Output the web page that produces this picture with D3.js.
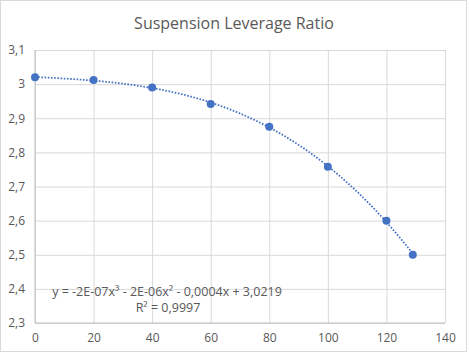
<!DOCTYPE html>
<html><head><meta charset="utf-8">
<script src="https://cdn.jsdelivr.net/npm/d3@7"></script>
<style>body{margin:0;background:#fff}svg{display:block}text{font-family:"Open Sans","Liberation Sans",sans-serif}</style>
</head><body><svg id="c" width="469" height="354"></svg>
<script>
const title = "Suspension Leverage Ratio";
const xValues = [0, 20, 40, 60, 80, 100, 120, 129];
const yValues = [3.02, 3.012, 2.99, 2.942, 2.875, 2.758, 2.6, 2.5];
const xTicks = [0, 20, 40, 60, 80, 100, 120, 140];
const yTicks = [2.3, 2.4, 2.5, 2.6, 2.7, 2.8, 2.9, 3.0, 3.1];
const equationLines = ["y = -2E-07x³ - 2E-06x² - 0,0004x + 3,0219", "R² = 0,9997"];

const svg = d3.select("#c");
const W = 469, H = 354;
const m = {l: 35, r: 24, t: 50, b: 31};
const x = d3.scaleLinear().domain([0, 140]).range([m.l, W - m.r]);
const y = d3.scaleLinear().domain([2.3, 3.1]).range([H - m.b, m.t]);
const txt = "#595959";

svg.append("rect").attr("x", 0.5).attr("y", 0.5).attr("width", W - 3).attr("height", H - 3)
  .attr("fill", "#fff").attr("stroke", "#d9d9d9");

svg.append("text").attr("x", 234).attr("y", 29).attr("text-anchor", "middle")
  .attr("font-size", 16).attr("fill", txt).text(title);

const fmt = v => d3.format("")(+v.toFixed(1)).replace(".", ",");

const gy = svg.append("g").attr("transform", `translate(${m.l},0)`)
  .call(d3.axisLeft(y).tickValues(yTicks).tickSize(-(W - m.r - m.l)).tickFormat(fmt).tickPadding(10));
gy.select(".domain").remove();
gy.selectAll(".tick line").attr("stroke", "#d9d9d9");
gy.selectAll(".tick text").attr("fill", txt).attr("font-size", 12);

const gx = svg.append("g").attr("transform", `translate(0,${H - m.b})`)
  .call(d3.axisBottom(x).tickValues(xTicks).tickSize(-(H - m.b - m.t)).tickFormat(d3.format("d")).tickPadding(10));
gx.select(".domain").remove();
gx.selectAll(".tick line").attr("stroke", "#d9d9d9");
gx.selectAll(".tick text").attr("fill", txt).attr("font-size", 12);

svg.append("line").attr("x1", x(0)).attr("x2", x(0)).attr("y1", y(3.1)).attr("y2", y(2.3)).attr("stroke", "#bfbfbf");
svg.append("line").attr("x1", x(0)).attr("x2", x(140)).attr("y1", y(2.3)).attr("y2", y(2.3)).attr("stroke", "#bfbfbf");

// cubic least-squares trendline computed from the data
function polyfit(xs, ys, deg) {
  const n = deg + 1;
  const A = Array.from({length: n}, () => new Array(n + 1).fill(0));
  for (let i = 0; i < xs.length; i++) {
    for (let r = 0; r < n; r++) {
      for (let c = 0; c < n; c++) A[r][c] += Math.pow(xs[i], r + c);
      A[r][n] += ys[i] * Math.pow(xs[i], r);
    }
  }
  for (let k = 0; k < n; k++) {
    let p = k;
    for (let r = k + 1; r < n; r++) { if (Math.abs(A[r][k]) > Math.abs(A[p][k])) p = r; }
    const tmp = A[k]; A[k] = A[p]; A[p] = tmp;
    for (let r = 0; r < n; r++) {
      if (r === k) continue;
      const f = A[r][k] / A[k][k];
      for (let c = k; c <= n; c++) A[r][c] -= f * A[k][c];
    }
  }
  return A.map((row, i) => row[n] / row[i]);
}
const coef = polyfit(xValues, yValues, 3);
const fx = v => coef.reduce((s, c, i) => s + c * Math.pow(v, i), 0);
const xs = d3.range(0, 129.01, 0.5);
svg.append("path").datum(xs)
  .attr("d", d3.line().x(d => x(d)).y(d => y(fx(d))))
  .attr("fill", "none").attr("stroke", "#4472c4").attr("stroke-width", 1.8)
  .attr("stroke-dasharray", "1.6,1.6");

svg.append("g").selectAll("circle").data(xValues).join("circle")
  .attr("cx", (d) => x(d)).attr("cy", (d, i) => y(yValues[i])).attr("r", 4)
  .attr("fill", "#4472c4");

svg.append("text").attr("x", 167).attr("y", 296).attr("text-anchor", "middle")
  .attr("font-size", 12.5).attr("fill", txt).text(equationLines[0]);
svg.append("text").attr("x", 168).attr("y", 312).attr("text-anchor", "middle")
  .attr("font-size", 12.5).attr("fill", txt).text(equationLines[1]);
</script></body></html>
